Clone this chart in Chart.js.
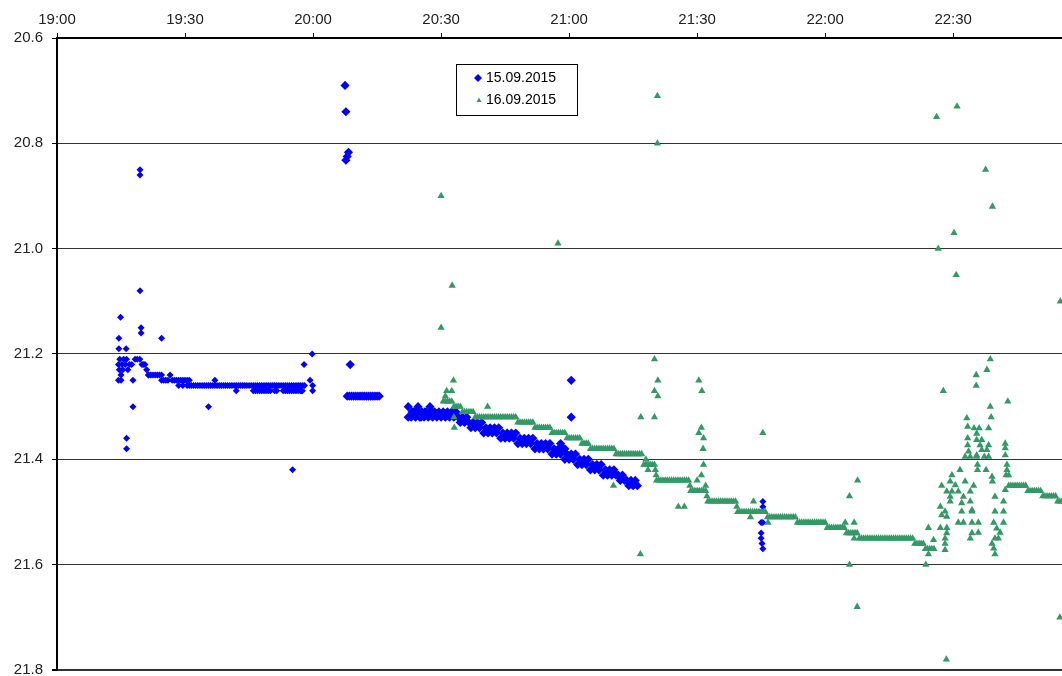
<!DOCTYPE html>
<html><head><meta charset="utf-8">
<script src="https://cdn.jsdelivr.net/npm/chart.js@4/dist/chart.umd.min.js"></script>
<style>html,body{margin:0;padding:0;background:#fff;overflow:hidden}#wrap{width:1062px;height:676px}</style>
</head><body><div id="wrap"><canvas id="c" width="1062" height="676"></canvas></div>
<script>
// x values: minutes after 19:00
const xTickMinutes = [0, 30, 60, 90, 120, 150, 180, 210];
const xTickLabels = ['19:00', '19:30', '20:00', '20:30', '21:00', '21:30', '22:00', '22:30'];
const yTicks = [20.6, 20.8, 21.0, 21.2, 21.4, 21.6, 21.8];
const seriesLabels = ['15.09.2015', '16.09.2015'];

// ---- 15.09.2015 (blue) ----
const blueScatter = [
  [14.4,21.22],[14.4,21.25],[14.5,21.17],[14.5,21.19],[14.6,21.23],[14.7,21.21],[14.9,21.13],[15.0,21.24],[15.0,21.25],
  [15.2,21.22],[15.4,21.23],[15.6,21.21],[16.0,21.22],[16.2,21.19],[16.3,21.21],[16.3,21.36],[16.3,21.38],[16.6,21.23],
  [17.0,21.22],[17.5,21.22],[17.8,21.25],[17.8,21.30],[18.3,21.21],[18.8,21.21],[19.4,21.21],[19.45,20.85],[19.45,20.86],
  [19.45,21.08],[19.7,21.15],[19.7,21.16],[19.9,21.22],[20.2,21.22],[20.6,21.22],[21.0,21.23],[21.4,21.24],[24.5,21.17],
  [35.5,21.30],[55.2,21.42],[57.9,21.22],[59.8,21.20],[59.3,21.25],
  [67.5,20.69],[67.7,20.74],[68.3,20.817],[68.0,20.825],[67.7,20.832],[68.7,21.22],
  [118,21.37],[120.5,21.25],[120.5,21.32],
  [165.4,21.48],[165.4,21.49],[165.0,21.52],[165.4,21.52],[165.0,21.54],[165.0,21.55],[165.2,21.56],[165.4,21.57]
];
const blueRows = [
  [21.24, [21.5,22,22.5,23,23.5,24,24.5,26.5]],
  [21.25, [24.5,25,25.5,26,27,27.5,28,28.5,29,29.5,30,30.5,31,37]],
  [21.26, [28.5,29.5,30.5,31,31.5,32,32.5,33,33.5,34,34.5,35,35.5,36,36.5,37,37.5,38,38.5,39,39.5,40,40.5,41,41.5,42,42.5,43,43.5,44,44.5,45,45.5,46,46.5,47,47.5,48,48.5,49,49.5,50,50.5,51,51.5,52,52.5,53,53.5,54,54.5,55,55.5,56,56.5,57,57.5,58,59.9]],
  [21.27, [42,46,46.5,47,47.5,48,48.5,49,49.5,50,51,51.5,53,53.5,54,54.5,55,55.5,56,56.5,57,57.3,57.5,59.9]],
  [21.28, [68,68.5,69,69.5,70,70.5,71,71.5,72,72.5,73,73.5,74,74.5,75,75.5]],
  [21.30, [82.3,84.6,87.4]],
  [21.31, [83.2,83.5,83.9,84.5,85.5,86.2,86.5,87.5,88,88.5,89.5,90.5,91.5,92.5,93.5]],
  [21.32, [82.3,83,84,85,85.3,86,87,88,89,90,91,92,93,94,95,96]],
  [21.33, [94.5,95.5,96.5,97.5,98.5,99.5]],
  [21.34, [97,98,99,100.5,101.5,102.5,103.5]],
  [21.35, [100,101,102,103,104.5,105.5,106.5,107.5]],
  [21.36, [104,105,106,107,108.5,109.5,110.5,111.5]],
  [21.37, [108,109,110,111,112.5,113.5,114.5,115.5]],
  [21.38, [112,113,114,115,116.5,117.5,118.5,119]],
  [21.39, [116,117,118,119.5,120.5,121.5]],
  [21.40, [119,120,121,122.5,123.5,124.5]],
  [21.41, [122,123,124,125.5,126.5,127.5]],
  [21.42, [125,126,127,128.5,129.5,130.5]],
  [21.43, [128,129,130,131,131.5,132.5]],
  [21.44, [132,133,133.5,134.5,135.5]],
  [21.45, [134,135,136]]
];

// ---- 16.09.2015 (green) ----
const greenScatter = [
  [90,20.90],[90,21.15],[92.6,21.07],[92.9,21.25],[91.3,21.27],[92.5,21.27],[91.0,21.28],[93.0,21.32],[93.1,21.34],[100.9,21.30],[117.4,20.99],
  [140.7,20.71],[140.7,20.80],[140,21.21],[140.8,21.25],[140,21.27],[140.8,21.28],[136.8,21.32],[140,21.32],[150.4,21.25],[151.1,21.27],
  [151,21.34],[150.4,21.35],[151.5,21.36],[151.4,21.38],[151.5,21.41],[145.6,21.49],[147,21.49],[136.7,21.58],[130.4,21.45],[138,21.40],
  [138.5,21.42],[151,21.43],[150,21.44],[152,21.45],[140.2,21.42],[140.4,21.43],[148.3,21.45],[152.3,21.47],[159.3,21.49],
  [165.4,21.35],[163.2,21.48],[162.5,21.51],[166.6,21.52],
  [185.7,21.47],[187.6,21.44],[184.7,21.52],[186.8,21.52],[185.7,21.60],[186.8,21.55],[187.5,21.68],
  [203.6,21.60],[204.2,21.58],[204.2,21.53],[205.4,21.553],
  [206.1,20.75],[210.9,20.73],[217.6,20.85],[219.2,20.92],[210.2,20.97],[206.5,21.00],[210.7,21.05],[235.1,21.10],[208.4,21.78],[235,21.70],
  [207.7,21.27],[218.7,21.21],[217.9,21.23],[215.4,21.24],[215.4,21.26],[222.8,21.29],[218.7,21.30],[218.9,21.32]
];
const greenCluster = [
  [213.2,21.322],[213.4,21.338],[214.9,21.341],[216.1,21.341],[218.3,21.341],[213.4,21.36],[215.5,21.351],[215.5,21.363],[216.7,21.363],
  [213.4,21.373],[216.3,21.373],[218.3,21.373],[213.6,21.385],[215.5,21.392],[216.7,21.382],[217.9,21.382],[212.8,21.395],[214.0,21.395],
  [215.5,21.395],[217.3,21.395],[218.3,21.395],[222.2,21.37],[222.2,21.379],[222.2,21.392],[215.7,21.41],[215.7,21.42],[217.7,21.42],
  [209.7,21.43],[211.6,21.42],[209.3,21.442],[210.5,21.449],[212.8,21.442],[207.3,21.45],[214.8,21.45],[208.5,21.461],[209.7,21.461],
  [211.2,21.461],[214.0,21.461],[209.3,21.471],[212.4,21.471],[214.0,21.48],[209.3,21.48],[212.0,21.483],[214.4,21.496],[207.0,21.49],
  [208.1,21.499],[212.0,21.499],[214.4,21.499],[207.3,21.506],[208.5,21.509],[211.2,21.52],[212.4,21.52],[214.4,21.52],[215.9,21.52],
  [207.0,21.53],[208.5,21.53],[208.5,21.54],[215.9,21.539],[214.4,21.54],[208.1,21.55],[214.0,21.55],[208.1,21.56],[208.1,21.572],
  [219.1,21.433],[219.2,21.442],[219.8,21.471],[221.8,21.48],[219.8,21.499],[221.8,21.499],[219.5,21.52],[221.8,21.52],[220.2,21.531],
  [221.0,21.539],[219.8,21.55],[219.1,21.56],[219.5,21.569],[219.8,21.58],[220.6,21.55],
  [222.6,21.41],[222.6,21.42],[222.4,21.43],[223.0,21.43],[222.2,21.458]
];
const greenRows = [
  [21.29, [90.5,91,91.5,92,92.5]],
  [21.30, [93,93.5,94,94.5]],
  [21.31, [95,95.5,96,96.5,97,97.5]],
  [21.32, [98,98.5,99,99.5,100,100.5,101,101.5,102,102.5,103,103.5,104,104.5,105,105.5,106,106.5,107,107.5]],
  [21.33, [108,108.5,109,109.5,110,110.5,111,111.5]],
  [21.34, [112,112.5,113,113.5,114,114.5,115,115.5]],
  [21.35, [116,116.5,117,117.5,118,118.5,119]],
  [21.36, [119.5,120,120.5,121,121.5,122,122.5]],
  [21.37, [123,123.5,124,124.5]],
  [21.38, [125,125.5,126,126.5,127,127.5,128,128.5,129,129.5,130,130.5]],
  [21.39, [131,131.5,132,132.5,133,133.5,134,134.5,135,135.5,136,136.5,137]],
  [21.41, [137.5,138,138.5,139,139.5,140]],
  [21.44, [140.5,141,141.5,142,142.5,143,143.5,144,144.5,145,145.5,146,146.5,147,147.5,148]],
  [21.46, [148.5,149,149.5,150,150.5,151,151.5,152]],
  [21.48, [152.5,153,153.5,154,154.5,155,155.5,156,156.5,157,157.5,158,158.5,159]],
  [21.50, [159.5,160,160.5,161,161.5,162,162.5,163,163.5,164,164.5,165,165.5,166]],
  [21.51, [166.5,167,167.5,168,168.5,169,169.5,170,170.5,171,171.5,172,172.5,173]],
  [21.52, [173.5,174,174.5,175,175.5,176,176.5,177,177.5,178,178.5,179,179.5,180]],
  [21.53, [180.5,181,181.5,182,182.5,183,183.5,184,184.5]],
  [21.54, [185,185.5,186,186.5,187,187.5]],
  [21.55, [188,188.5,189,189.5,190,190.5,191,191.5,192,192.5,193,193.5,194,194.5,195,195.5,196,196.5,197,197.5,198,198.5,199,199.5,200,200.5]],
  [21.56, [201,201.5,202,202.5,203]],
  [21.57, [203.5,204,204.5,205,205.5]],
  [21.45, [223,223.5,224,224.5,225,225.5,226,226.5,227]],
  [21.46, [227.5,228,228.5,229,229.5,230,230.5]],
  [21.47, [231,231.5,232,232.5,233,233.5,234]],
  [21.48, [234.5,235,235.5]]
];

function fromPairs(p) { return p.map(([x, y]) => ({ x, y })); }
function fromRows(rows) { const out = []; rows.forEach(([v, ts]) => ts.forEach(t => out.push({ x: t, y: v }))); return out; }

const BLUE = '#0000FF', GREEN = '#339966';
const FONT = '"Liberation Sans", Arial, sans-serif';

const legendBox = {
  id: 'legendBox',
  afterDatasetsDraw(chart) {
    const ctx = chart.ctx;
    ctx.save();
    ctx.fillStyle = '#fff';
    ctx.fillRect(456, 64, 121, 51);
    ctx.strokeStyle = '#000'; ctx.lineWidth = 1;
    ctx.strokeRect(456.5, 64.5, 121, 51);
    ctx.fillStyle = BLUE;
    ctx.beginPath(); ctx.moveTo(478, 74); ctx.lineTo(482, 78); ctx.lineTo(478, 82); ctx.lineTo(474, 78); ctx.closePath(); ctx.fill();
    ctx.fillStyle = GREEN;
    ctx.beginPath(); ctx.moveTo(479, 97.5); ctx.lineTo(481.5, 102); ctx.lineTo(476.5, 102); ctx.closePath(); ctx.fill();
    ctx.fillStyle = '#000';
    ctx.font = '14px ' + FONT;
    ctx.textBaseline = 'middle'; ctx.textAlign = 'left';
    ctx.fillText(chart.data.datasets[0].label, 486, 78);
    ctx.fillText(chart.data.datasets[1].label, 486, 100);
    ctx.restore();
  }
};

new Chart(document.getElementById('c'), {
  type: 'scatter',
  data: {
    datasets: [
      { label: seriesLabels[0], data: fromPairs(blueScatter).concat(fromRows(blueRows)), order: 2,
        pointStyle: 'rectRot', backgroundColor: BLUE, borderWidth: 0,
        pointRadius: c => (c.raw && c.raw.x >= 60 && c.raw.x < 140) ? 4.6 : 3.5 },
      { label: seriesLabels[1], data: fromPairs(greenScatter).concat(fromPairs(greenCluster), fromRows(greenRows)), order: 1,
        pointStyle: 'triangle', backgroundColor: GREEN, borderWidth: 0, pointRadius: 4.2 }
    ]
  },
  options: {
    responsive: false, animation: false, devicePixelRatio: 1, events: [],
    layout: { autoPadding: false, padding: { top: 0, left: 0, right: 0, bottom: 6 } },
    plugins: { legend: { display: false }, tooltip: { enabled: false } },
    scales: {
      x: {
        type: 'linear', position: 'top', min: 0, max: 235.5,
        afterBuildTicks: s => { s.ticks = xTickMinutes.map(v => ({ value: v })); },
        afterFit: s => { s.height = 38; s.paddingLeft = 0; s.paddingRight = 0; },
        ticks: { callback: v => xTickLabels[xTickMinutes.indexOf(v)], autoSkip: false, maxRotation: 0,
                 font: { family: FONT, size: 15 }, color: '#222', padding: 4 },
        grid: { drawOnChartArea: false, drawTicks: true, tickLength: 5, color: '#000', tickColor: '#000' },
        border: { color: '#000', width: 2 }
      },
      y: {
        reverse: true, min: 20.6, max: 21.8,
        afterBuildTicks: s => { s.ticks = yTicks.map(v => ({ value: v })); },
        afterFit: s => { s.width = 57; s.paddingTop = 0; s.paddingBottom = 0; },
        ticks: { callback: v => Number(v).toFixed(1), font: { family: FONT, size: 15 }, color: '#222', padding: 9 },
        grid: { color: '#333', lineWidth: c => (c.tick && Math.abs(c.tick.value - 21.8) < 1e-6) ? 2 : 1,
                tickLength: 5, tickColor: '#000' },
        border: { color: '#000', width: 2 }
      }
    }
  },
  plugins: [legendBox]
});
</script>
</body></html>
